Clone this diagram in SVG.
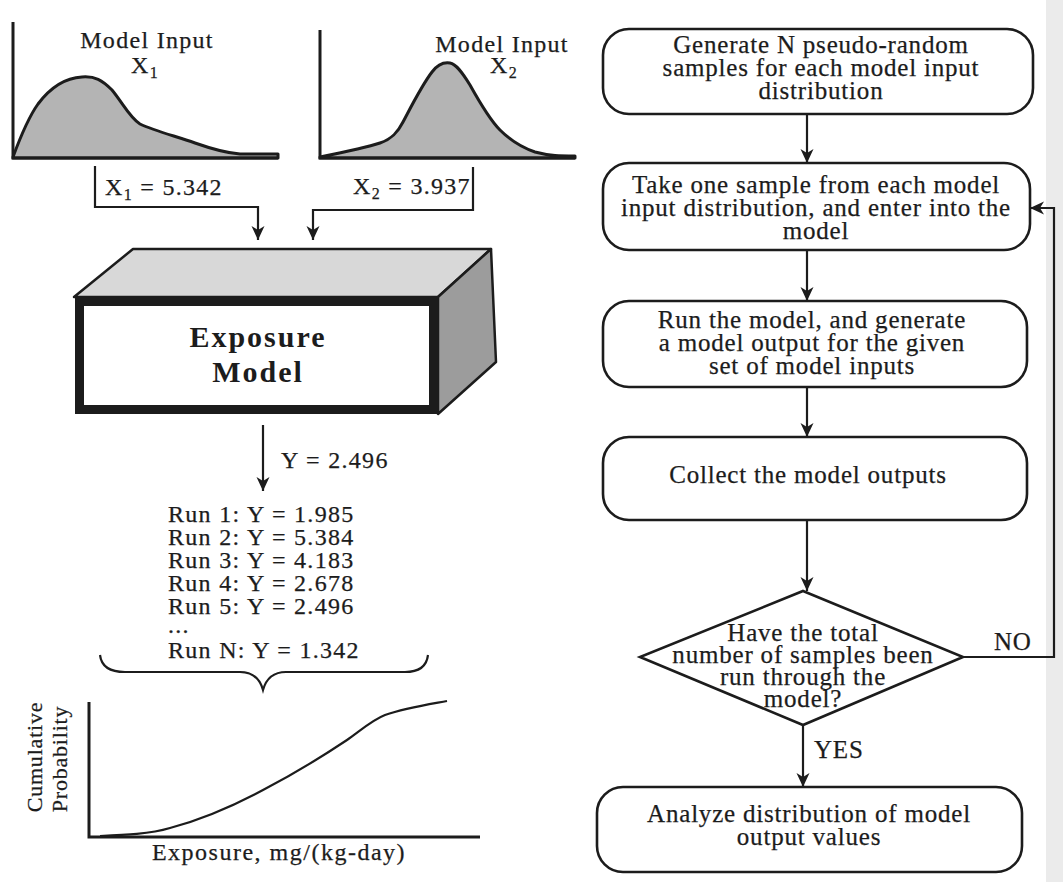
<svg xmlns="http://www.w3.org/2000/svg" width="1063" height="882" viewBox="0 0 1063 882">
  <defs>
    <style>
      .t { font-family: "Liberation Serif", "Times New Roman", serif; font-size: 24px; fill: #1c1c1c; letter-spacing: 1.3px; stroke: #1c1c1c; stroke-width: 0.25px; }
      .fc { font-family: "Liberation Serif", "Times New Roman", serif; font-size: 25px; fill: #1c1c1c; letter-spacing: 0.8px; text-anchor: middle; stroke: #1c1c1c; stroke-width: 0.25px; }
      .bold { font-family: "Liberation Serif", "Times New Roman", serif; font-size: 30px; font-weight: bold; fill: #1c1c1c; letter-spacing: 2px; text-anchor: middle; }
      .axis { fill: none; stroke: #1c1c1c; stroke-width: 3; }
      .box { fill: #ffffff; stroke: #1c1c1c; stroke-width: 2.6; }
      .line { fill: none; stroke: #1c1c1c; stroke-width: 2.2; }
      .pdf { fill: #b4b4b4; stroke: #1c1c1c; stroke-width: 3; stroke-linejoin: round; }
    </style>
    <marker id="arrow" markerUnits="userSpaceOnUse" markerWidth="14" markerHeight="16" viewBox="0 0 14 16" refX="14" refY="8" orient="auto">
      <path d="M0,1.5 L14,8 L0,14.5 L4,8 Z" fill="#1c1c1c"/>
    </marker>
  </defs>

  <rect width="1063" height="882" fill="#ffffff"/>
  <!-- faint page edge on the right -->
  <rect x="1046" y="0" width="17" height="882" fill="#ebebeb"/>

  <!-- input distribution X1 -->
  <g id="input-x1">
    <path class="pdf" d="M13,157 C20,138 28,118 38,104 C50,88 64,78 82,77 C95,76 102,80 112,90 C122,102 130,118 140,124 C155,131 175,136 195,143 C212,149 225,153 240,154 L278,154 L278,158 L13,158 Z"/>
    <path class="axis" d="M13,22 L13,158 L278,158"/>
    <text class="t" x="147" y="48" text-anchor="middle">Model Input</text>
    <text class="t" x="145" y="73" text-anchor="middle">X<tspan font-size="16" dy="5">1</tspan></text>
  </g>

  <!-- input distribution X2 -->
  <g id="input-x2">
    <path class="pdf" d="M320,157 C345,152 365,148 380,143 C392,139 398,132 403,122 C412,105 422,85 432,72 C438,64 444,62 450,63 C456,64 462,72 470,85 C480,103 490,120 500,130 C510,140 520,147 535,152 C550,156 560,156 575,156 L575,158 L320,158 Z"/>
    <path class="axis" d="M320,30 L320,158 L575,158"/>
    <text class="t" x="502" y="52" text-anchor="middle">Model Input</text>
    <text class="t" x="504" y="73" text-anchor="middle">X<tspan font-size="16" dy="5">2</tspan></text>
  </g>

  <!-- exposure model block -->
  <g id="exposure-model">
    <polygon points="74,297 133,249 491,249 438,297" fill="#d8d8d8" stroke="#1c1c1c" stroke-width="2.5" stroke-linejoin="round"/>
    <polygon points="438,297 491,249 496,362 438,414" fill="#9c9c9c" stroke="#1c1c1c" stroke-width="2.5" stroke-linejoin="round"/>
    <rect x="79.5" y="301.5" width="354" height="108" fill="#ffffff" stroke="#1c1c1c" stroke-width="9"/>
    <text class="bold" x="258" y="347">Exposure</text>
    <text class="bold" x="258" y="382">Model</text>
  </g>

  <!-- sampled input values -->
  <g id="input-values">
    <text class="t" x="105" y="195">X<tspan font-size="16" dy="5">1</tspan><tspan dy="-5"> = 5.342</tspan></text>
    <text class="t" x="353" y="194">X<tspan font-size="16" dy="5">2</tspan><tspan dy="-5"> = 3.937</tspan></text>
  </g>

  <!-- model output per run -->
  <g id="run-results">
    <text class="t" x="281" y="468">Y = 2.496</text>
    <text class="t" x="168" y="522">Run 1: Y = 1.985</text>
    <text class="t" x="168" y="545">Run 2: Y = 5.384</text>
    <text class="t" x="168" y="568">Run 3: Y = 4.183</text>
    <text class="t" x="168" y="591">Run 4: Y = 2.678</text>
    <text class="t" x="168" y="614">Run 5: Y = 2.496</text>
    <text class="t" x="168" y="633">...</text>
    <text class="t" x="168" y="658">Run N: Y = 1.342</text>
    <path class="line" d="M100,655 Q102,672 125,672 L240,672 Q258,672 263,690 Q268,672 286,672 L405,672 Q426,672 428,655"/>
  </g>

  <!-- cumulative distribution of the output -->
  <g id="output-cdf">
    <path class="axis" d="M89,702 L89,837 L480,837" stroke-width="2.5"/>
    <path class="line" d="M100,836 C125,835 150,834 170,828 C200,820 235,805 263,790 C290,776 320,758 347,740 C360,731 372,720 385,715 C405,708 425,705 447,701"/>
    <text class="t" x="279" y="860" text-anchor="middle" style="letter-spacing:1.5px">Exposure, mg/(kg-day)</text>
    <text class="t" transform="translate(42,757) rotate(-90)" text-anchor="middle" style="font-size:22px;letter-spacing:0.8px">Cumulative</text>
    <text class="t" transform="translate(67,759) rotate(-90)" text-anchor="middle" style="font-size:22px;letter-spacing:0.8px">Probability</text>
  </g>

  <!-- flowchart steps -->
  <g id="step-generate">
    <rect class="box" x="603" y="29" width="430" height="85" rx="26"/>
    <text class="fc" x="821" y="53">Generate N pseudo-random</text>
    <text class="fc" x="821" y="76">samples for each model input</text>
    <text class="fc" x="821" y="99">distribution</text>
  </g>

  <g id="step-sample">
    <rect class="box" x="603" y="163" width="427" height="87" rx="26"/>
    <text class="fc" x="816" y="193">Take one sample from each model</text>
    <text class="fc" x="816" y="216">input distribution, and enter into the</text>
    <text class="fc" x="816" y="239">model</text>
  </g>

  <g id="step-run">
    <rect class="box" x="603" y="301" width="424" height="86" rx="26"/>
    <text class="fc" x="812" y="328">Run the model, and generate</text>
    <text class="fc" x="812" y="351">a model output for the given</text>
    <text class="fc" x="812" y="374">set of model inputs</text>
  </g>

  <g id="step-collect">
    <rect class="box" x="603" y="437" width="424" height="83" rx="26"/>
    <text class="fc" x="808" y="483">Collect the model outputs</text>
  </g>

  <g id="decision-done">
    <polygon class="box" points="803,591 963,657 803,725 640,657"/>
    <text class="fc" x="803" y="641">Have the total</text>
    <text class="fc" x="803" y="663">number of samples been</text>
    <text class="fc" x="803" y="685">run through the</text>
    <text class="fc" x="803" y="707">model?</text>
  </g>

  <g id="step-analyze">
    <rect class="box" x="597" y="787" width="425" height="85" rx="26"/>
    <text class="fc" x="809" y="822">Analyze distribution of model</text>
    <text class="fc" x="809" y="845">output values</text>
  </g>

  <!-- connectors -->
  <g id="connectors">
    <path class="line" d="M95,166 L95,207 L258,207 L258,240" marker-end="url(#arrow)"/>
    <path class="line" d="M473,167 L473,210 L313,210 L313,240" marker-end="url(#arrow)"/>
    <path class="line" d="M263,425 L263,491" marker-end="url(#arrow)"/>

    <path class="line" d="M807,114 L807,163" marker-end="url(#arrow)"/>
    <path class="line" d="M807,250 L807,301" marker-end="url(#arrow)"/>
    <path class="line" d="M807,387 L807,437" marker-end="url(#arrow)"/>
    <path class="line" d="M807,520 L807,591" marker-end="url(#arrow)"/>
    <path class="line" d="M803,725 L803,787" marker-end="url(#arrow)"/>
    <path class="line" d="M963,657 L1054,657 L1054,208 L1030,208" marker-end="url(#arrow)"/>

    <text class="fc" x="814" y="758" style="text-anchor:start">YES</text>
    <text class="fc" x="994" y="650" style="text-anchor:start">NO</text>
  </g>
</svg>
